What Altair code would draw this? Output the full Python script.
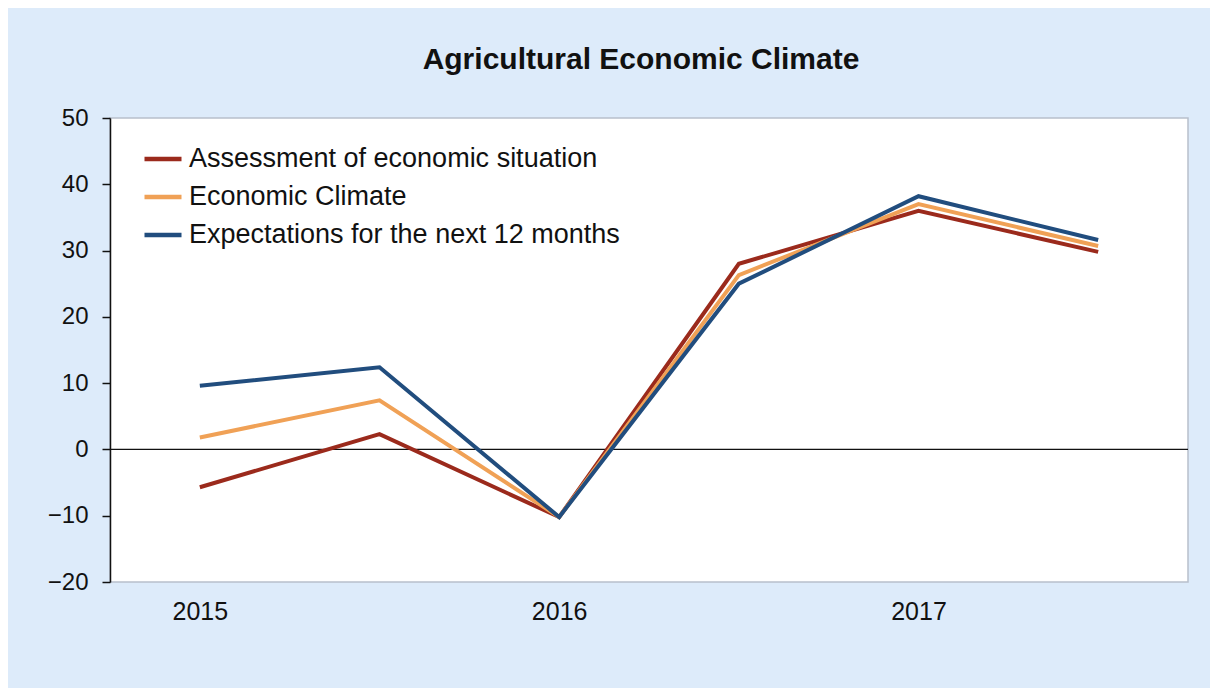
import altair as alt
import pandas as pd

periods = [0, 1, 2, 3, 4, 5]
tick_labels = {0: "2015", 2: "2016", 4: "2017"}
series_names = ["Assessment of economic situation", "Economic Climate", "Expectations for the next 12 months"]
assessment = [-5.7, 2.3, -10.2, 28.0, 36.0, 29.8]
climate = [1.8, 7.4, -10.2, 26.3, 37.0, 30.7]
expectations = [9.6, 12.4, -10.2, 25.0, 38.2, 31.6]
colors = ["#9b2a1c", "#f0a156", "#214d7e"]

rows = []
for name, vals in zip(series_names, [assessment, climate, expectations]):
    for p, v in zip(periods, vals):
        rows.append({"period": p, "value": v, "series": name})
df = pd.DataFrame(rows)

font = "Liberation Sans"

x = alt.X(
    "period:Q",
    scale=alt.Scale(domain=[-0.5, 5.5], nice=False, zero=False),
    axis=alt.Axis(
        values=[0, 2, 4],
        labelExpr="datum.value == 0 ? '2015' : datum.value == 2 ? '2016' : '2017'",
        title=None,
        grid=False,
        ticks=False,
        domain=False,
        labelFontSize=25,
        labelColor="#111111",
        labelPadding=17,
        labelFont=font,
    ),
)
y = alt.Y(
    "value:Q",
    scale=alt.Scale(domain=[-20, 50], nice=False),
    axis=alt.Axis(
        values=[-20, -10, 0, 10, 20, 30, 40, 50],
        title=None,
        grid=False,
        domainColor="#111111",
        domainWidth=1.5,
        tickColor="#111111",
        tickSize=8,
        tickWidth=1.5,
        labelFontSize=24,
        labelColor="#111111",
        labelPadding=14,
        labelFont=font,
    ),
)

lines = alt.Chart(df).mark_line(strokeWidth=4, strokeJoin="miter").encode(
    x=x,
    y=y,
    color=alt.Color(
        "series:N",
        scale=alt.Scale(domain=series_names, range=colors),
        legend=alt.Legend(
            title=None,
            orient="none",
            legendX=32,
            legendY=20,
            symbolType="stroke",
            symbolSize=1369,
            symbolStrokeWidth=4.5,
            labelFontSize=27,
            labelFont=font,
            labelColor="#111111",
            labelLimit=0,
            rowPadding=4,
            labelOffset=5,
        ),
    ),
    order=alt.Order("period:Q"),
)

zero = alt.Chart(pd.DataFrame({"z": [0]})).mark_rule(color="#111111", strokeWidth=1.2).encode(y="z:Q")

chart = alt.layer(zero, lines).properties(
    width=1078,
    height=464,
    autosize=alt.AutoSizeParams(type="none"),
    padding={"left": 102, "top": 110, "right": 22, "bottom": 106},
    background="#ddebfa",
    title=alt.TitleParams(
        "Agricultural Economic Climate",
        fontSize=30,
        font=font,
        fontWeight="bold",
        color="#111111",
        offset=31,
        dx=-8,
        anchor="middle",
    ),
).configure_view(
    fill="white",
    stroke="#b8c0cc",
    strokeWidth=1.5,
)

chart.save("out.html", embed_options={"renderer": "svg", "actions": False})
